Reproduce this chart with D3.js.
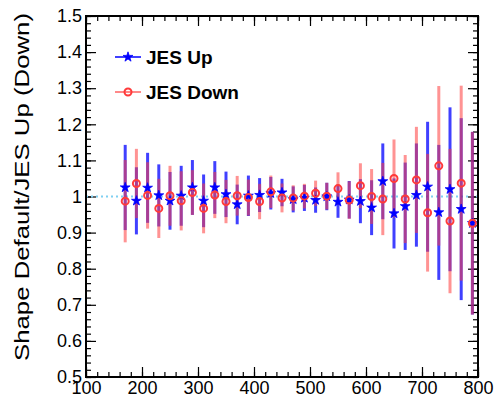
<!DOCTYPE html>
<html>
<head>
<meta charset="utf-8">
<script src="https://cdn.jsdelivr.net/npm/d3@7"></script>
<style>
  body { margin: 0; background: #fff; }
  svg { font-family: "Liberation Sans", Arial, Helvetica, sans-serif; }
  .axis path { display: none; }
  .axis line { stroke: #000; stroke-width: 1.2; }
  .axis text { font-size: 18px; fill: #000; }
</style>
</head>
<body>
<svg class="graph" width="498" height="399"></svg>
<script>
// bin centres (GeV)
var binCenters = [170, 190, 210, 230, 250, 270, 290, 310, 330, 350, 370, 390, 410, 430, 450, 470,
                  490, 510, 530, 550, 570, 590, 610, 630, 650, 670, 690, 710, 730, 750, 770, 790];
// JES Up ratio and its error
var upValues = [1.025, 0.988, 1.024, 1.003, 0.988, 1.002, 1.025, 0.988, 1.025, 1.006, 0.978, 1.002, 1.004, 1.009, 1.011, 0.992,
                0.996, 0.990, 1.000, 0.985, 0.991, 0.987, 0.969, 1.042, 0.953, 0.973, 1.004, 1.027, 0.956, 1.020, 0.965, 0.926];
var upErrors = [0.118, 0.093, 0.097, 0.086, 0.080, 0.083, 0.076, 0.073, 0.073, 0.063, 0.055, 0.056, 0.047, 0.045, 0.038, 0.036,
                0.036, 0.035, 0.038, 0.044, 0.052, 0.061, 0.076, 0.105, 0.097, 0.121, 0.143, 0.180, 0.187, 0.227, 0.252, 0.253];
// JES Down ratio and its error
var downValues = [0.987, 1.036, 1.003, 0.967, 1.002, 0.988, 1.011, 0.967, 1.004, 0.986, 1.002, 0.997, 0.986, 1.013, 0.996, 0.996,
                  1.001, 1.009, 1.001, 1.022, 0.990, 1.030, 1.000, 0.993, 1.050, 0.993, 1.046, 0.955, 1.085, 0.932, 1.037, 0.926];
var downErrors = [0.114, 0.096, 0.092, 0.082, 0.083, 0.082, 0.062, 0.069, 0.064, 0.060, 0.055, 0.050, 0.049, 0.045, 0.040, 0.035,
                  0.034, 0.035, 0.037, 0.045, 0.052, 0.062, 0.076, 0.100, 0.108, 0.122, 0.147, 0.163, 0.221, 0.200, 0.270, 0.253];
var seriesNames = ["JES Up", "JES Down"];
var yTickLabels = [0.5, 0.6, 0.7, 0.8, 0.9, 1, 1.1, 1.2, 1.3, 1.4, 1.5];
var xTickLabels = [100, 200, 300, 400, 500, 600, 700, 800];

var svgElem = d3.select("svg.graph");
var pLeft = 86, pTop = 16, pRight = 478, pBottom = 377;

var x = d3.scaleLinear().domain([100, 800]).range([pLeft, pRight]);
var y = d3.scaleLinear().domain([0.5, 1.5]).range([pBottom, pTop]);

var blueCol = "#0000ff", redCol = "#ff3a3a";

// minor ticks (all four sides, pointing inward)
var xMinor = d3.range(100, 801, 20), yMinor = d3.range(0, 51).map(function (i) { return 0.5 + i * 0.02; });
svgElem.append("g").attr("class", "axis").attr("transform", "translate(0," + pBottom + ")")
    .call(d3.axisBottom(x).tickValues(xMinor).tickSize(-5).tickFormat(""));
svgElem.append("g").attr("class", "axis").attr("transform", "translate(0," + pTop + ")")
    .call(d3.axisTop(x).tickValues(xMinor).tickSize(-5).tickFormat(""));
svgElem.append("g").attr("class", "axis").attr("transform", "translate(" + pLeft + ",0)")
    .call(d3.axisLeft(y).tickValues(yMinor).tickSize(-5).tickFormat(""));
svgElem.append("g").attr("class", "axis").attr("transform", "translate(" + pRight + ",0)")
    .call(d3.axisRight(y).tickValues(yMinor).tickSize(-5).tickFormat(""));

// major ticks + labels
svgElem.append("g").attr("class", "axis").attr("transform", "translate(0," + pBottom + ")")
    .call(d3.axisBottom(x).tickValues(xTickLabels).tickSize(-10).tickPadding(4).tickFormat(d3.format("d")));
svgElem.append("g").attr("class", "axis").attr("transform", "translate(0," + pTop + ")")
    .call(d3.axisTop(x).tickValues(xTickLabels).tickSize(-10).tickFormat(""));
svgElem.append("g").attr("class", "axis").attr("transform", "translate(" + pLeft + ",0)")
    .call(d3.axisLeft(y).tickValues(yTickLabels).tickSize(-10).tickPadding(4)
        .tickFormat(function (d) { return String(+d.toFixed(1)); }));
svgElem.append("g").attr("class", "axis").attr("transform", "translate(" + pRight + ",0)")
    .call(d3.axisRight(y).tickValues(yTickLabels).tickSize(-10).tickFormat(""));

// reference line at 1
svgElem.append("line")
    .attr("x1", pLeft).attr("x2", pRight).attr("y1", y(1)).attr("y2", y(1))
    .attr("stroke", "#7fd0f2").attr("stroke-width", 2).attr("stroke-dasharray", "2,3");

var pts = binCenters.map(function (c, i) {
    return { x: c, up: upValues[i], upErr: upErrors[i], down: downValues[i], downErr: downErrors[i] };
});

var g = svgElem.append("g");

// error bars
g.selectAll(".bar-up").data(pts).enter().append("line")
    .attr("class", "bar-up")
    .attr("x1", function (d) { return x(d.x); }).attr("x2", function (d) { return x(d.x); })
    .attr("y1", function (d) { return y(d.up + d.upErr); })
    .attr("y2", function (d) { return y(d.up - d.upErr); })
    .attr("stroke", blueCol).attr("stroke-width", 3).attr("stroke-opacity", 0.75);

g.selectAll(".bar-down").data(pts).enter().append("line")
    .attr("class", "bar-down")
    .attr("x1", function (d) { return x(d.x); }).attr("x2", function (d) { return x(d.x); })
    .attr("y1", function (d) { return y(d.down + d.downErr); })
    .attr("y2", function (d) { return y(d.down - d.downErr); })
    .attr("stroke", redCol).attr("stroke-width", 3).attr("stroke-opacity", 0.55);

// markers
var star = d3.symbol().type(d3.symbolStar).size(30);
g.selectAll(".m-up").data(pts).enter().append("path")
    .attr("class", "m-up")
    .attr("d", star)
    .attr("transform", function (d) { return "translate(" + x(d.x) + "," + y(d.up) + ")"; })
    .attr("fill", blueCol).attr("stroke", blueCol).attr("stroke-width", 0.8);

g.selectAll(".m-down").data(pts).enter().append("circle")
    .attr("class", "m-down")
    .attr("cx", function (d) { return x(d.x); })
    .attr("cy", function (d) { return y(d.down); })
    .attr("r", 3.5)
    .attr("fill", "none").attr("stroke", redCol).attr("stroke-width", 2);

// frame
svgElem.append("rect")
    .attr("x", pLeft).attr("y", pTop).attr("width", pRight - pLeft).attr("height", pBottom - pTop)
    .attr("fill", "none").attr("stroke", "#000").attr("stroke-width", 2);

// legend
var legend = svgElem.append("g");
seriesNames.forEach(function (name, i) {
    var ly = 57 + i * 35;
    var col = i === 0 ? blueCol : redCol;
    legend.append("line").attr("x1", 115).attr("x2", 141).attr("y1", ly).attr("y2", ly)
        .attr("stroke", col).attr("stroke-width", 2).attr("stroke-opacity", i === 0 ? 0.75 : 0.6);
    if (i === 0) {
        legend.append("path").attr("d", star).attr("transform", "translate(128," + ly + ")")
            .attr("fill", col).attr("stroke", col).attr("stroke-width", 0.8);
    } else {
        legend.append("circle").attr("cx", 128).attr("cy", ly).attr("r", 3.5)
            .attr("fill", "none").attr("stroke", col).attr("stroke-width", 2);
    }
    legend.append("text").attr("x", 146).attr("y", ly + 7)
        .style("font-size", "19px").style("font-weight", "bold")
        .text(name);
});

// y title
svgElem.append("text")
    .attr("transform", "translate(29,187) rotate(-90)")
    .attr("text-anchor", "middle")
    .attr("textLength", 348).attr("lengthAdjust", "spacingAndGlyphs")
    .style("font-size", "21px")
    .text("Shape Default/JES Up (Down)");
</script>
</body>
</html>
